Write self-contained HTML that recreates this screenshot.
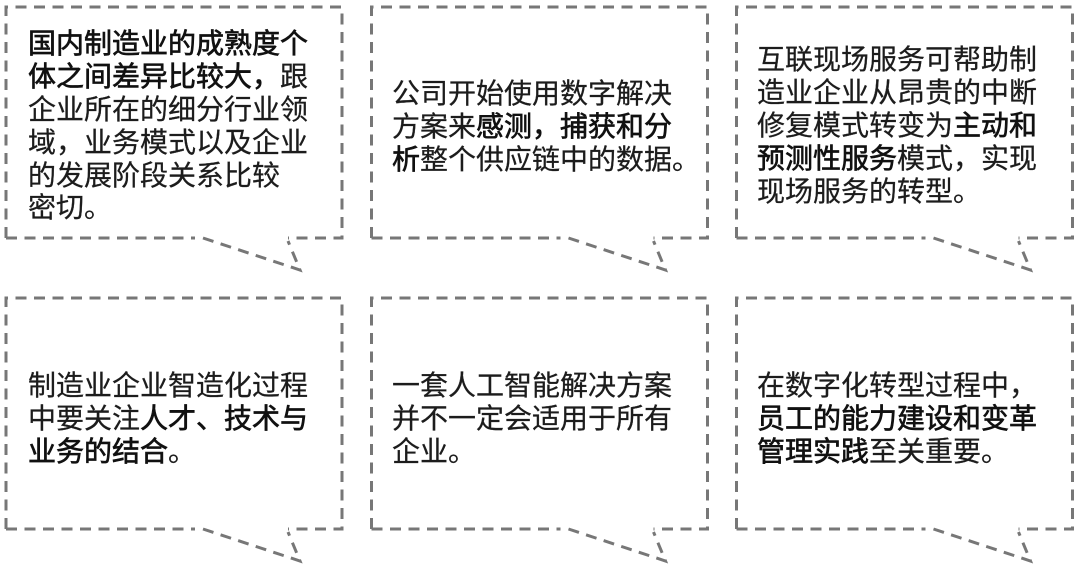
<!DOCTYPE html>
<html lang="zh-CN"><head><meta charset="utf-8"><style>
html,body{margin:0;padding:0;background:#fff;width:1080px;height:572px;overflow:hidden}
svg{display:block}
text{font-family:"WenQuanYi Zen Hei","Liberation Sans",sans-serif;font-size:28px;fill:#1c1c1c;stroke:#1c1c1c;stroke-width:.25}
.b{fill:#111;stroke:#111;stroke-width:.65}
.t{filter:blur(.35px)}
.d{fill:none;stroke:#777;stroke-width:3;stroke-dasharray:11 7.5;filter:blur(.3px)}
</style></head><body>
<svg width="1080" height="572" viewBox="0 0 1080 572" xmlns="http://www.w3.org/2000/svg">
<defs><g id="c">
<path class="d" d="M6 238V7H342V238H288"/>
<path class="d" d="M6 238H195"/>
<path class="d" d="M203 238L300 270L288 241"/>
</g></defs>
<use href="#c"/><use href="#c" x="365.5"/><use href="#c" x="730.5"/>
<use href="#c" y="291"/><use href="#c" x="365.5" y="291"/><use href="#c" x="730.5" y="291"/>
<g class="t">
<text x="28" y="53"><tspan class="b">国内制造业的成熟度个</tspan></text>
<text x="28" y="86"><tspan class="b">体之间差异比较大，</tspan>跟</text>
<text x="28" y="119">企业所在的细分行业领</text>
<text x="28" y="152">域，业务模式以及企业</text>
<text x="28" y="185">的发展阶段关系比较</text>
<text x="28" y="217">密切。</text>

<text x="392" y="103">公司开始使用数字解决</text>
<text x="392" y="136">方案来<tspan class="b">感测，捕获和分</tspan></text>
<text x="392" y="169"><tspan class="b">析</tspan>整个供应链中的数据。</text>

<text x="757" y="69">互联现场服务可帮助制</text>
<text x="757" y="102">造业企业从昂贵的中断</text>
<text x="757" y="135">修复模式转变为<tspan class="b">主动和</tspan></text>
<text x="757" y="168"><tspan class="b">预测性服务</tspan>模式，实现</text>
<text x="757" y="201">现场服务的转型。</text>

<text x="28" y="395">制造业企业智造化过程</text>
<text x="28" y="428">中要关注<tspan class="b">人才、技术与</tspan></text>
<text x="28" y="461"><tspan class="b">业务的结合</tspan>。</text>

<text x="392" y="395">一套人工智能解决方案</text>
<text x="392" y="428">并不一定会适用于所有</text>
<text x="392" y="461">企业。</text>

<text x="757" y="395">在数字化转型过程中，</text>
<text x="757" y="428"><tspan class="b">员工的能力建设和变革</tspan></text>
<text x="757" y="461"><tspan class="b">管理实践</tspan>至关重要。</text>
</g>
</svg>
</body></html>
